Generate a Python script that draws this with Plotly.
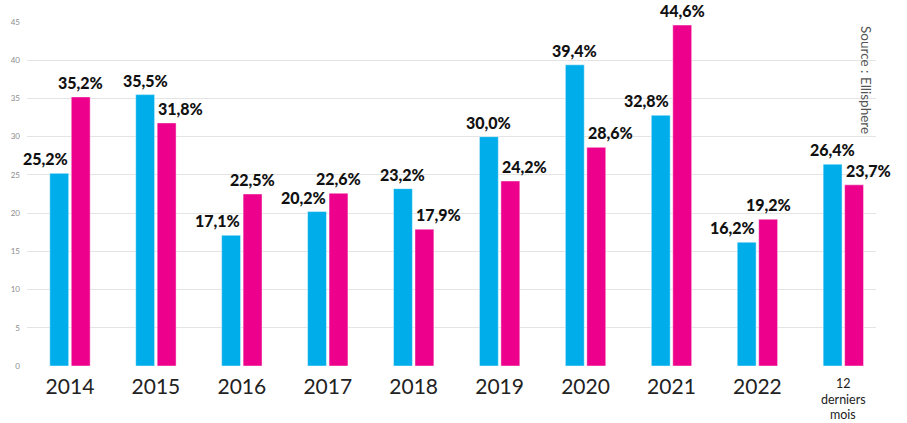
import plotly.graph_objects as go

# Categories and the two series (percentages)
categories = ["2014", "2015", "2016", "2017", "2018", "2019", "2020", "2021", "2022", "12 derniers mois"]
serie_bleue = [25.2, 35.5, 17.1, 20.2, 23.2, 30.0, 39.4, 32.8, 16.2, 26.4]
serie_rose = [35.2, 31.8, 22.5, 22.6, 17.9, 24.2, 28.6, 44.6, 19.2, 23.7]
y_ticks = [0, 5, 10, 15, 20, 25, 30, 35, 40, 45]

BLEU = "#00ADEB"
ROSE = "#EC008C"

x_idx = list(range(len(categories)))
# single-word categories go on the axis; the multi-word one is stacked below
tick_text = [c if " " not in c else "" for c in categories]

fig = go.Figure()
fig.add_trace(go.Bar(x=x_idx, y=serie_bleue, marker=dict(color=BLEU, line=dict(color="rgba(255,255,255,0.45)", width=1)),
                     hoverinfo="skip", showlegend=False))
fig.add_trace(go.Bar(x=x_idx, y=serie_rose, marker=dict(color=ROSE, line=dict(color="rgba(255,255,255,0.45)", width=1)),
                     hoverinfo="skip", showlegend=False))

BARGAP = 0.5
slot = (1 - BARGAP) / 2  # width of one bar slot in category units


def fmt(v):
    return f"{v:.1f}%".replace(".", ",")


# Value labels: the lower bar of each pair gets its label nudged outward
label_font = dict(family="Lato", size=16, color="#111111", weight=900)
annotations = []
for i, (b, r) in enumerate(zip(serie_bleue, serie_rose)):
    annotations.append(dict(x=i - slot / 2, y=b, xref="x", yref="y", text=fmt(b), showarrow=False,
                            yanchor="bottom", yshift=3, xshift=-14 if b < r else 0, font=label_font))
    annotations.append(dict(x=i + slot / 2, y=r, xref="x", yref="y", text=fmt(r), showarrow=False,
                            yanchor="bottom", yshift=3, xshift=14 if r < b else 0, font=label_font))

# Multi-word category label, one word per line under its bars
for i, c in enumerate(categories):
    if " " in c:
        for k, word in enumerate(c.split(" ")):
            annotations.append(dict(x=i, y=0, xref="x", yref="y", text=word, showarrow=False,
                                    xanchor="center", yanchor="top", yshift=-9 - 15.5 * k,
                                    borderpad=0,
                                    font=dict(family="Lato", size=12.5, color="#222222")))

annotations.append(dict(x=0.989, y=0.995, xref="paper", yref="paper", xanchor="center", yanchor="top",
                        text="Source : Ellisphere", textangle=90, showarrow=False,
                        font=dict(family="Lato", size=13.5, color="#555555")))

fig.update_layout(
    width=907, height=423,
    margin=dict(l=27, r=31, t=22, b=57),
    paper_bgcolor="white", plot_bgcolor="white",
    barmode="group", bargap=BARGAP, bargroupgap=0.12,
    annotations=annotations,
    xaxis=dict(
        tickmode="array", tickvals=x_idx, ticktext=tick_text, automargin=False,
        range=[-0.5, 9.38], showgrid=False, zeroline=False, showline=False,
        ticks="", tickfont=dict(family="Lato", size=21, color="#222222"),
        ticklabelstandoff=6,
    ),
    yaxis=dict(
        range=[0, 45], tickmode="array", tickvals=y_ticks, automargin=False,
        showgrid=True, gridcolor="#E4E4E4", gridwidth=1, zeroline=False,
        tickfont=dict(family="Lato", size=8, color="#8C8C8C"), ticks="",
        ticklabelstandoff=6,
    ),
)

fig.write_html("out.html")
